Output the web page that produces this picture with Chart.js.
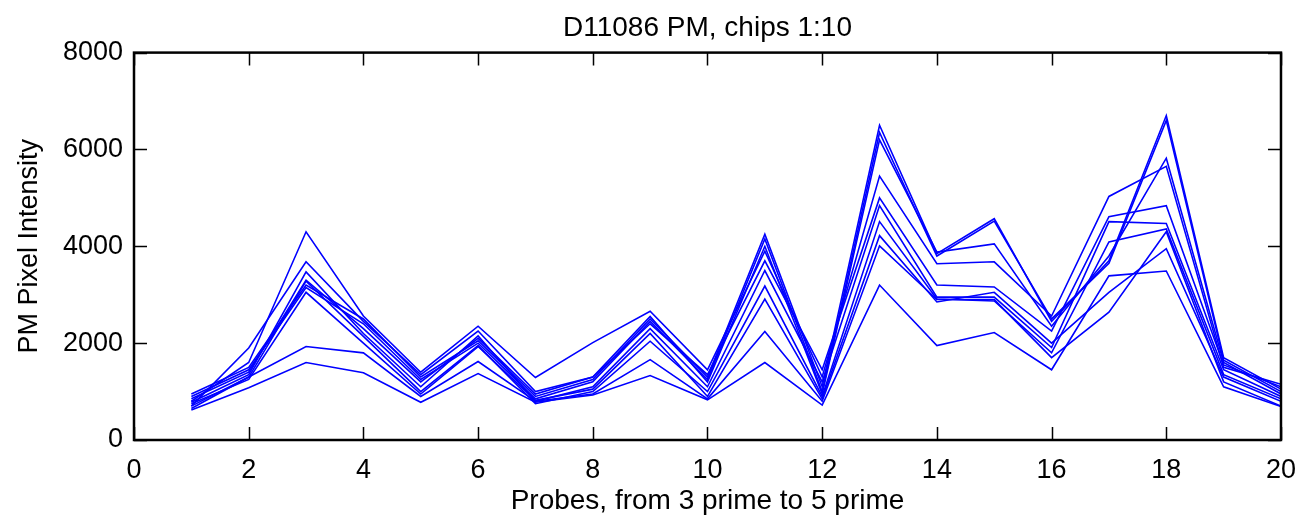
<!DOCTYPE html>
<html>
<head>
<meta charset="utf-8">
<script src="https://cdn.jsdelivr.net/npm/chart.js@4/dist/chart.umd.min.js"></script>
<style>
  html, body { margin: 0; padding: 0; background: #fff; }
  #wrap { width: 1310px; height: 518px; }
</style>
</head>
<body>
<div id="wrap"><canvas id="myChart"></canvas></div>
<script>
// probe index along the x axis
const probes = [1, 2, 3, 4, 5, 6, 7, 8, 9, 10, 11, 12, 13, 14, 15, 16, 17, 18, 19, 20];

// PM intensity per chip
const chip1 = [950, 1500, 3200, 2500, 1300, 2050, 900, 1250, 2500, 1300, 4250, 1100, 6500, 3850, 4570, 2450, 3700, 6700, 1700, 1050];
const chip2 = [900, 1450, 3150, 2400, 1250, 2000, 850, 1200, 2450, 1250, 4150, 1000, 6350, 3800, 4520, 2500, 3650, 6600, 1650, 1000];
const chip3 = [850, 1400, 3300, 2300, 1200, 2100, 950, 1300, 2550, 1200, 4000, 950, 6200, 3880, 4050, 2350, 3800, 5820, 1600, 950];
const chip4 = [800, 1600, 4300, 2560, 1400, 2350, 1290, 2010, 2660, 1450, 3900, 1300, 5450, 3640, 3680, 2560, 5030, 5650, 1500, 1150];
const chip5 = [700, 1900, 3680, 2450, 1350, 2250, 1000, 1300, 2400, 1350, 3700, 1450, 5000, 3200, 3160, 2250, 4610, 4840, 1550, 1100];
const chip6 = [780, 1350, 3470, 2200, 1100, 2150, 800, 1100, 2300, 1100, 3500, 1200, 4840, 2950, 2950, 1910, 4510, 4470, 1450, 900];
const chip7 = [650, 1300, 3280, 2140, 1000, 1950, 750, 1000, 2040, 1000, 3180, 900, 4510, 2910, 2870, 1800, 4090, 4360, 1350, 850];
const chip8 = [750, 1250, 3050, 2000, 950, 1930, 820, 1050, 2200, 900, 2910, 850, 4220, 2850, 3050, 2000, 3050, 3950, 1300, 800];
const chip9 = [700, 1300, 1930, 1800, 900, 1620, 800, 950, 1660, 850, 2240, 800, 4010, 2900, 2900, 1700, 2640, 4300, 1200, 700];
const chip10 = [620, 1080, 1600, 1390, 780, 1370, 780, 930, 1330, 830, 1600, 720, 3200, 1950, 2220, 1450, 3390, 3490, 1100, 690];

const chips = [chip1, chip2, chip3, chip4, chip5, chip6, chip7, chip8, chip9, chip10];

const xTicks = [0, 2, 4, 6, 8, 10, 12, 14, 16, 18, 20];
const yTicks = [0, 2000, 4000, 6000, 8000];

const font = "'Liberation Sans', Arial, Helvetica, sans-serif";

// matlab style box with inward ticks on all four sides
const boxPlugin = {
  id: "boxTicks",
  afterLayout(chart) {
    // center the title over the plot box, not the whole canvas
    const tb = chart.titleBlock;
    if (tb) {
      tb.left = chart.chartArea.left;
      tb.right = chart.chartArea.right;
      tb.width = tb.right - tb.left;
    }
  },
  afterDatasetsDraw(chart) {
    const { ctx, chartArea: a, scales } = chart;
    const len = 13;
    ctx.save();
    ctx.strokeStyle = "#000";
    ctx.lineWidth = 1.5;
    ctx.beginPath();
    xTicks.forEach((t) => {
      const px = Math.round(scales.x.getPixelForValue(t)) + 0.5;
      ctx.moveTo(px, a.bottom); ctx.lineTo(px, a.bottom - len);
      ctx.moveTo(px, a.top); ctx.lineTo(px, a.top + len);
    });
    yTicks.forEach((t) => {
      const py = Math.round(scales.y.getPixelForValue(t)) + 0.5;
      ctx.moveTo(a.left, py); ctx.lineTo(a.left + len, py);
      ctx.moveTo(a.right, py); ctx.lineTo(a.right - len, py);
    });
    ctx.stroke();
    ctx.lineWidth = 2.5;
    ctx.strokeRect(a.left, a.top, a.right - a.left, a.bottom - a.top);
    ctx.restore();
  },
};

const ctx = document.getElementById("myChart").getContext("2d");
new Chart(ctx, {
  type: "line",
  data: {
    datasets: chips.map((vals, i) => ({
      label: "chip " + (i + 1),
      data: probes.map((p, j) => ({ x: p, y: vals[j] })),
      borderColor: "#0000ff",
      borderWidth: 1.6,
      pointRadius: 0,
      tension: 0,
      fill: false,
    })),
  },
  options: {
    responsive: true,
    maintainAspectRatio: false,
    animation: false,
    layout: { padding: { left: 0, right: 18, top: 0, bottom: 0 } },
    plugins: {
      legend: { display: false },
      tooltip: { enabled: false },
      title: {
        display: true,
        text: "D11086 PM, chips 1:10",
        color: "#000",
        font: { family: font, size: 28, weight: "normal" },
        padding: { top: 11, bottom: 8 },
      },
    },
    scales: {
      x: {
        type: "linear",
        min: 0,
        max: 20,
        afterBuildTicks: (s) => { s.ticks = xTicks.map((v) => ({ value: v })); },
        afterFit: (s) => { s.height = 78; },
        grid: { display: false, drawTicks: false },
        border: { display: false },
        ticks: { color: "#000", padding: 14, maxRotation: 0, font: { family: font, size: 27 } },
        title: {
          display: true,
          text: "Probes, from 3 prime to 5 prime",
          color: "#000",
          padding: { top: 0, bottom: 0 },
          font: { family: font, size: 28 },
        },
      },
      y: {
        min: 0,
        max: 8000,
        afterBuildTicks: (s) => { s.ticks = yTicks.map((v) => ({ value: v })); },
        afterFit: (s) => { s.width = 134; },
        grid: { display: false, drawTicks: false },
        border: { display: false },
        ticks: {
          color: "#000",
          padding: 11,
          font: { family: font, size: 27 },
          callback: (v) => String(v),
        },
        title: {
          display: true,
          text: "PM Pixel Intensity",
          color: "#000",
          padding: { top: 13, bottom: 0 },
          font: { family: font, size: 27 },
        },
      },
    },
  },
  plugins: [boxPlugin],
});
</script>
</body>
</html>
